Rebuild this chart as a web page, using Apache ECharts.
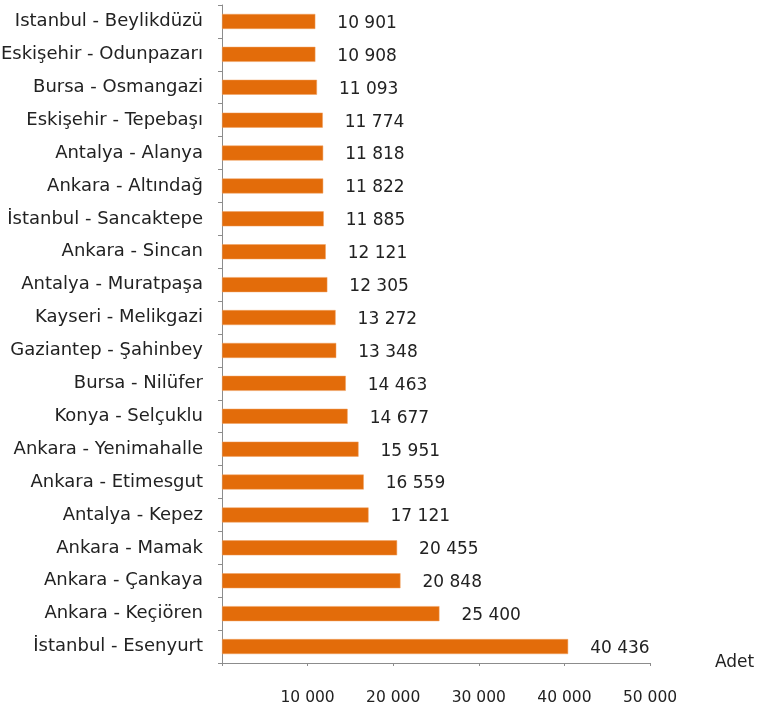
<!DOCTYPE html>
<html>
<head>
<meta charset="utf-8">
<script src="https://cdn.jsdelivr.net/npm/echarts@6/dist/echarts.min.js"></script>
<style>html,body{margin:0;padding:0;background:#fff;}#c{width:758px;height:718px;}</style>
</head>
<body>
<div id="c"></div>
<script>
const categories = [
  "Istanbul - Beylikdüzü",
  "Eskişehir - Odunpazarı",
  "Bursa - Osmangazi",
  "Eskişehir - Tepebaşı",
  "Antalya - Alanya",
  "Ankara - Altındağ",
  "İstanbul - Sancaktepe",
  "Ankara - Sincan",
  "Antalya - Muratpaşa",
  "Kayseri - Melikgazi",
  "Gaziantep - Şahinbey",
  "Bursa - Nilüfer",
  "Konya - Selçuklu",
  "Ankara - Yenimahalle",
  "Ankara - Etimesgut",
  "Antalya - Kepez",
  "Ankara - Mamak",
  "Ankara - Çankaya",
  "Ankara - Keçiören",
  "İstanbul - Esenyurt"
];
const values = [10901, 10908, 11093, 11774, 11818, 11822, 11885, 12121, 12305, 13272, 13348, 14463, 14677, 15951, 16559, 17121, 20455, 20848, 25400, 40436];
const xTicks = [0, 10000, 20000, 30000, 40000, 50000];
const axisName = "Adet";

function fmt(v) {
  return String(v).replace(/\B(?=(\d{3})+(?!\d))/g, ' ');
}

const chart = echarts.init(document.getElementById('c'));
const font = 'DejaVu Sans';
chart.setOption({
  animation: false,
  grid: { left: 222, top: 5, right: 108, bottom: 55, containLabel: false, outerBoundsMode: 'none' },
  xAxis: {
    type: 'value',
    min: xTicks[0],
    max: xTicks[xTicks.length - 1],
    interval: xTicks[1] - xTicks[0],
    name: axisName,
    nameLocation: 'end',
    nameGap: 65,
    nameTextStyle: { fontFamily: font, fontSize: 17, color: '#222', verticalAlign: 'middle' },
    axisLine: { show: true, lineStyle: { color: '#8c8c8c', width: 1 } },
    axisTick: { show: true, length: 3, lineStyle: { color: '#8c8c8c' } },
    splitLine: { show: false },
    axisLabel: {
      margin: 27,
      fontFamily: font, fontSize: 15.5, color: '#222',
      formatter: function (v) { return v === 0 ? '' : fmt(v); }
    }
  },
  yAxis: {
    type: 'category',
    data: categories,
    inverse: true,
    axisLine: { show: true, lineStyle: { color: '#8c8c8c', width: 1 } },
    axisTick: { show: true, length: 4, lineStyle: { color: '#8c8c8c' } },
    axisLabel: { margin: 19, fontFamily: font, fontSize: 18, color: '#222' }
  },
  series: [{
    type: 'bar',
    data: values,
    barWidth: 15,
    itemStyle: { color: '#E36C0A', borderColor: '#F0A060', borderWidth: 0.5 },
    label: {
      show: true,
      position: 'right',
      distance: 22,
      offset: [0, 2],
      fontFamily: font, fontSize: 17, color: '#222',
      formatter: function (p) { return fmt(p.value); }
    }
  }]
});
</script>
</body>
</html>
